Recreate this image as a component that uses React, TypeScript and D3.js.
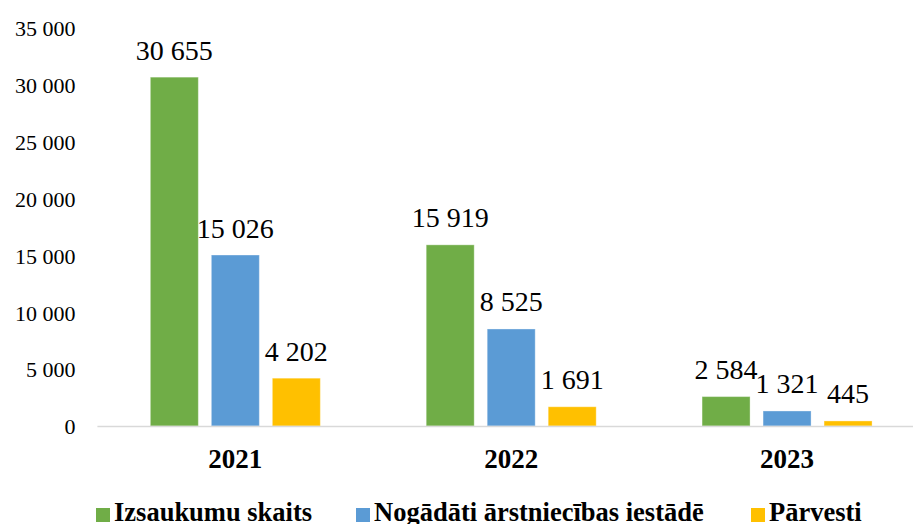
import * as d3 from "d3";

const years = ["2021", "2022", "2023"];
const seriesNames = [
  "Izsaukumu skaits",
  "Nogādāti ārstniecības iestādē",
  "Pārvesti",
];
const izsaukumi = [30655, 15919, 2584];
const nogadati = [15026, 8525, 1321];
const parvesti = [4202, 1691, 445];
const yTicks = [0, 5000, 10000, 15000, 20000, 25000, 30000, 35000];
const colors = ["#70ad47", "#5b9bd5", "#ffc000"];

const W = 913;
const H = 524;
const FONT = "Liberation Serif";

// Latvian style: space as thousands separator
const fmt = (v: number) =>
  v.toString().replace(/\B(?=(\d{3})+(?!\d))/g, " ");

const App = () => {
  const values = [izsaukumi, nogadati, parvesti];

  const y = d3.scaleLinear().domain([0, 35000]).range([426, 27.7]);
  const x0 = d3.scaleBand().domain(years).range([97.4, 925]).padding(0);
  const groupW = x0.bandwidth();
  const x1 = d3
    .scaleBand()
    .domain(seriesNames)
    .range([(groupW - 170) / 2, (groupW + 170) / 2])
    .paddingInner(13 / 61)
    .paddingOuter(0);

  // legend item positions (left edge of each marker)
  const legendX = [96, 356, 751];

  return (
    <svg
      width={W}
      height={H}
      fontFamily={FONT}
      style={{ position: "absolute", left: 0, top: 0 }}
    >
      <rect width={W} height={H} fill="#fff" />
      {/* y axis labels */}
      {yTicks.map((t) => (
        <text
          key={t}
          x={75.5}
          y={y(t) + 8.3}
          textAnchor="end"
          fontFamily={FONT}
          fontSize={22}
        >
          {fmt(t)}
        </text>
      ))}

      {/* bars */}
      {years.map((yr, i) => (
        <g key={yr} transform={`translate(${x0(yr)},0)`}>
          {seriesNames.map((s, j) => {
            const v = values[j][i];
            const bx = x1(s) as number;
            return (
              <g key={s}>
                <rect
                  x={bx}
                  y={y(v)}
                  width={x1.bandwidth()}
                  height={y(0) - y(v)}
                  fill={colors[j]}
                  stroke="#fff"
                  strokeOpacity={0.35}
                  strokeWidth={1}
                />
                <text
                  x={bx + x1.bandwidth() / 2}
                  y={y(v) - 17.5}
                  textAnchor="middle"
                  fontFamily={FONT}
                  fontSize={28}
                >
                  {fmt(v)}
                </text>
              </g>
            );
          })}
          <text
            x={groupW / 2}
            y={468}
            textAnchor="middle"
            fontFamily={FONT}
            fontSize={27}
            fontWeight="bold"
          >
            {yr}
          </text>
        </g>
      ))}

      {/* x axis line */}
      <line
        x1={97.4}
        x2={W}
        y1={y(0) + 0.5}
        y2={y(0) + 0.5}
        stroke="#d9d9d9"
        strokeWidth={1.5}
      />

      {/* legend */}
      {seriesNames.map((s, j) => (
        <g key={s} transform={`translate(${legendX[j]},0)`}>
          <rect x={0} y={508} width={14} height={14} fill={colors[j]} />
          <text
            x={18}
            y={520.5}
            fontFamily={FONT}
            fontSize={26.5}
            fontWeight="bold"
          >
            {s}
          </text>
        </g>
      ))}
    </svg>
  );
};

export default App;
